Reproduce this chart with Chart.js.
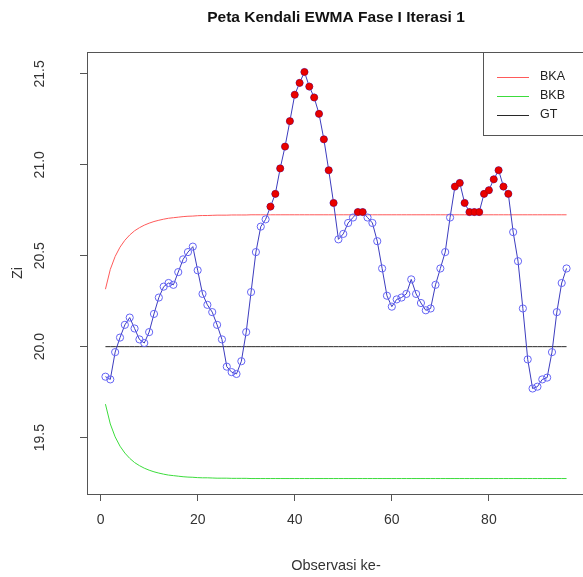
<!DOCTYPE html>
<html>
<head>
<meta charset="utf-8">
<script src="https://cdn.jsdelivr.net/npm/chart.js@4"></script>
<style>
  html, body { margin: 0; padding: 0; background: #fff; overflow: hidden; }
  canvas { display: block; }
</style>
</head>
<body>
<canvas id="ewmaChart" width="590" height="577"></canvas>
<script>
// Peta kendali EWMA

const chartTitle = 'Peta Kendali EWMA Fase I Iterasi 1';
const xTitle = 'Observasi ke-';
const yTitle = 'Zi';
const xTicks = [0, 20, 40, 60, 80];
const yTicks = [19.5, 20.0, 20.5, 21.0, 21.5];

const obs = [
  1, 2, 3, 4, 5, 6, 7, 8, 9, 10, 11, 12, 13, 14, 15, 16, 17, 18, 19, 20,
  21, 22, 23, 24, 25, 26, 27, 28, 29, 30, 31, 32, 33, 34, 35, 36, 37, 38, 39, 40,
  41, 42, 43, 44, 45, 46, 47, 48, 49, 50, 51, 52, 53, 54, 55, 56, 57, 58, 59, 60,
  61, 62, 63, 64, 65, 66, 67, 68, 69, 70, 71, 72, 73, 74, 75, 76, 77, 78, 79, 80,
  81, 82, 83, 84, 85, 86, 87, 88, 89, 90, 91, 92, 93, 94, 95, 96
];

const zi = [
  19.835, 19.82, 19.97, 20.05, 20.12, 20.16, 20.10, 20.04, 20.02, 20.08,
  20.18, 20.27, 20.33, 20.35, 20.34, 20.41, 20.48, 20.52, 20.55, 20.42,
  20.29, 20.23, 20.19, 20.12, 20.04, 19.89, 19.86, 19.85, 19.92, 20.08,
  20.30, 20.52, 20.66, 20.70, 20.77, 20.84, 20.98, 21.10, 21.24, 21.385,
  21.45, 21.51, 21.43, 21.37, 21.28, 21.14, 20.97, 20.79, 20.59, 20.62,
  20.68, 20.71, 20.74, 20.74, 20.71, 20.68, 20.58, 20.43, 20.28, 20.22,
  20.26, 20.27, 20.29, 20.37, 20.29, 20.24, 20.20, 20.21, 20.34, 20.43,
  20.52, 20.71, 20.88, 20.90, 20.79, 20.74, 20.74, 20.74, 20.84, 20.86,
  20.92, 20.97, 20.88, 20.84, 20.63, 20.47, 20.21, 19.93, 19.77, 19.78,
  19.82, 19.83, 19.97, 20.19, 20.35, 20.43
];

const bka = [
  20.316, 20.425, 20.496, 20.547, 20.585, 20.614, 20.637, 20.654, 20.668, 20.679,
  20.688, 20.695, 20.701, 20.706, 20.709, 20.712, 20.715, 20.717, 20.718, 20.720,
  20.721, 20.721, 20.722, 20.723, 20.723, 20.723, 20.724, 20.724, 20.724, 20.724,
  20.725, 20.725, 20.725, 20.725, 20.725, 20.725, 20.725, 20.725, 20.725, 20.725,
  20.725, 20.725, 20.725, 20.725, 20.725, 20.725, 20.725, 20.725, 20.725, 20.725,
  20.725, 20.725, 20.725, 20.725, 20.725, 20.725, 20.725, 20.725, 20.725, 20.725,
  20.725, 20.725, 20.725, 20.725, 20.725, 20.725, 20.725, 20.725, 20.725, 20.725,
  20.725, 20.725, 20.725, 20.725, 20.725, 20.725, 20.725, 20.725, 20.725, 20.725,
  20.725, 20.725, 20.725, 20.725, 20.725, 20.725, 20.725, 20.725, 20.725, 20.725,
  20.725, 20.725, 20.725, 20.725, 20.725, 20.725
];

const bkb = [
  19.684, 19.575, 19.504, 19.453, 19.415, 19.386, 19.363, 19.346, 19.332, 19.321,
  19.312, 19.305, 19.299, 19.294, 19.291, 19.288, 19.285, 19.283, 19.282, 19.280,
  19.279, 19.279, 19.278, 19.277, 19.277, 19.277, 19.276, 19.276, 19.276, 19.276,
  19.275, 19.275, 19.275, 19.275, 19.275, 19.275, 19.275, 19.275, 19.275, 19.275,
  19.275, 19.275, 19.275, 19.275, 19.275, 19.275, 19.275, 19.275, 19.275, 19.275,
  19.275, 19.275, 19.275, 19.275, 19.275, 19.275, 19.275, 19.275, 19.275, 19.275,
  19.275, 19.275, 19.275, 19.275, 19.275, 19.275, 19.275, 19.275, 19.275, 19.275,
  19.275, 19.275, 19.275, 19.275, 19.275, 19.275, 19.275, 19.275, 19.275, 19.275,
  19.275, 19.275, 19.275, 19.275, 19.275, 19.275, 19.275, 19.275, 19.275, 19.275,
  19.275, 19.275, 19.275, 19.275, 19.275, 19.275
];

const gt = [
  20, 20, 20, 20, 20, 20, 20, 20, 20, 20, 20, 20, 20, 20, 20, 20, 20, 20, 20, 20,
  20, 20, 20, 20, 20, 20, 20, 20, 20, 20, 20, 20, 20, 20, 20, 20, 20, 20, 20, 20,
  20, 20, 20, 20, 20, 20, 20, 20, 20, 20, 20, 20, 20, 20, 20, 20, 20, 20, 20, 20,
  20, 20, 20, 20, 20, 20, 20, 20, 20, 20, 20, 20, 20, 20, 20, 20, 20, 20, 20, 20,
  20, 20, 20, 20, 20, 20, 20, 20, 20, 20, 20, 20, 20, 20, 20, 20
];

const FONT = '"Liberation Sans", Arial, sans-serif';

function toPoints(values) {
  return obs.map((o, i) => ({ x: o, y: values[i] }));
}

// titik di atas BKA diberi warna merah
const outPoints = obs.map((o, i) => ({ x: o, y: zi[i] > bka[i] ? zi[i] : null }));

const rStylePlugin = {
  id: 'rStyle',
  afterDraw(chart) {
    const ctx = chart.ctx;
    const area = chart.chartArea;
    const xs = chart.scales.x;
    const ys = chart.scales.y;
    const midX = (area.left + area.right) / 2;

    ctx.save();
    // kotak plot
    ctx.strokeStyle = '#555';
    ctx.lineWidth = 1;
    ctx.strokeRect(Math.round(area.left) + 0.5, Math.round(area.top) + 0.5,
      Math.round(area.right - area.left), Math.round(area.bottom - area.top));

    // judul
    ctx.fillStyle = '#111';
    ctx.textAlign = 'center';
    ctx.textBaseline = 'middle';
    ctx.font = 'bold 15.5px ' + FONT;
    ctx.fillText(chartTitle, midX, 18);

    // label sumbu x
    ctx.fillStyle = '#333';
    ctx.font = '14px ' + FONT;
    xTicks.forEach(t => ctx.fillText(String(t), xs.getPixelForValue(t), 520));
    ctx.font = '14.5px ' + FONT;
    ctx.fillText(xTitle, midX, 566);

    // label sumbu y (diputar seperti di R)
    ctx.font = '14px ' + FONT;
    yTicks.forEach(t => {
      ctx.save();
      ctx.translate(40, ys.getPixelForValue(t));
      ctx.rotate(-Math.PI / 2);
      ctx.fillText(t.toFixed(1), 0, 0);
      ctx.restore();
    });
    ctx.font = '14.5px ' + FONT;
    ctx.save();
    ctx.translate(18, (area.top + area.bottom) / 2);
    ctx.rotate(-Math.PI / 2);
    ctx.fillText(yTitle, 0, 0);
    ctx.restore();

    // legenda kanan atas
    const legendSets = chart.data.datasets.filter(d => d.inLegend);
    const boxLeft = 483, boxTop = Math.round(area.top) + 0.5, boxBottom = 135.5;
    ctx.strokeStyle = '#555';
    ctx.strokeRect(boxLeft + 0.5, boxTop, Math.round(area.right) - boxLeft, boxBottom - boxTop);
    ctx.textAlign = 'left';
    ctx.font = '12.5px ' + FONT;
    legendSets.forEach((d, k) => {
      const yy = 77 + k * 19;
      ctx.strokeStyle = d.borderColor;
      ctx.lineWidth = 1;
      ctx.beginPath();
      ctx.moveTo(497, yy + 0.5);
      ctx.lineTo(529, yy + 0.5);
      ctx.stroke();
      ctx.fillStyle = '#222';
      ctx.fillText(d.label, 540, yy);
    });
    ctx.restore();
  }
};

const ctx = document.getElementById('ewmaChart').getContext('2d');
const ewmaChart = new Chart(ctx, {
  type: 'line',
  data: {
    datasets: [
      {
        label: 'Zi luar',
        data: outPoints,
        showLine: false,
        pointStyle: 'circle',
        pointRadius: 3.3,
        pointBorderWidth: 1,
        pointBackgroundColor: 'rgb(235, 0, 0)',
        pointBorderColor: 'rgb(200, 0, 0)',
        order: 0
      },
      {
        label: 'Zi',
        data: toPoints(zi),
        borderColor: 'rgb(60, 60, 190)',
        borderWidth: 1,
        pointStyle: 'circle',
        pointRadius: 3.6,
        pointBorderWidth: 1,
        pointBackgroundColor: 'rgba(0, 0, 0, 0)',
        pointBorderColor: 'rgb(100, 100, 245)',
        tension: 0,
        order: 1
      },
      {
        label: 'BKA',
        inLegend: true,
        data: toPoints(bka),
        borderColor: 'rgb(255, 90, 90)',
        borderWidth: 1,
        pointRadius: 0,
        order: 2
      },
      {
        label: 'BKB',
        inLegend: true,
        data: toPoints(bkb),
        borderColor: 'rgb(60, 220, 60)',
        borderWidth: 1,
        pointRadius: 0,
        order: 3
      },
      {
        label: 'GT',
        inLegend: true,
        data: toPoints(gt),
        borderColor: 'rgb(40, 40, 40)',
        borderWidth: 1,
        pointRadius: 0,
        order: 4
      }
    ]
  },
  options: {
    responsive: false,
    animation: false,
    devicePixelRatio: 1,
    events: [],
    layout: { padding: { left: 80, right: 4, top: 52, bottom: 76 } },
    plugins: {
      legend: { display: false },
      title: { display: false },
      tooltip: { enabled: false }
    },
    scales: {
      x: {
        type: 'linear',
        min: -2.8,
        max: 99.8,
        afterBuildTicks: s => { s.ticks = xTicks.map(v => ({ value: v })); },
        ticks: { display: false },
        grid: { drawOnChartArea: false, tickLength: 7, color: '#555' },
        border: { display: false }
      },
      y: {
        min: 19.19,
        max: 21.62,
        afterBuildTicks: s => { s.ticks = yTicks.map(v => ({ value: v })); },
        ticks: { display: false },
        grid: { drawOnChartArea: false, tickLength: 7, color: '#555' },
        border: { display: false }
      }
    }
  },
  plugins: [rStylePlugin]
});
</script>
</body>
</html>
